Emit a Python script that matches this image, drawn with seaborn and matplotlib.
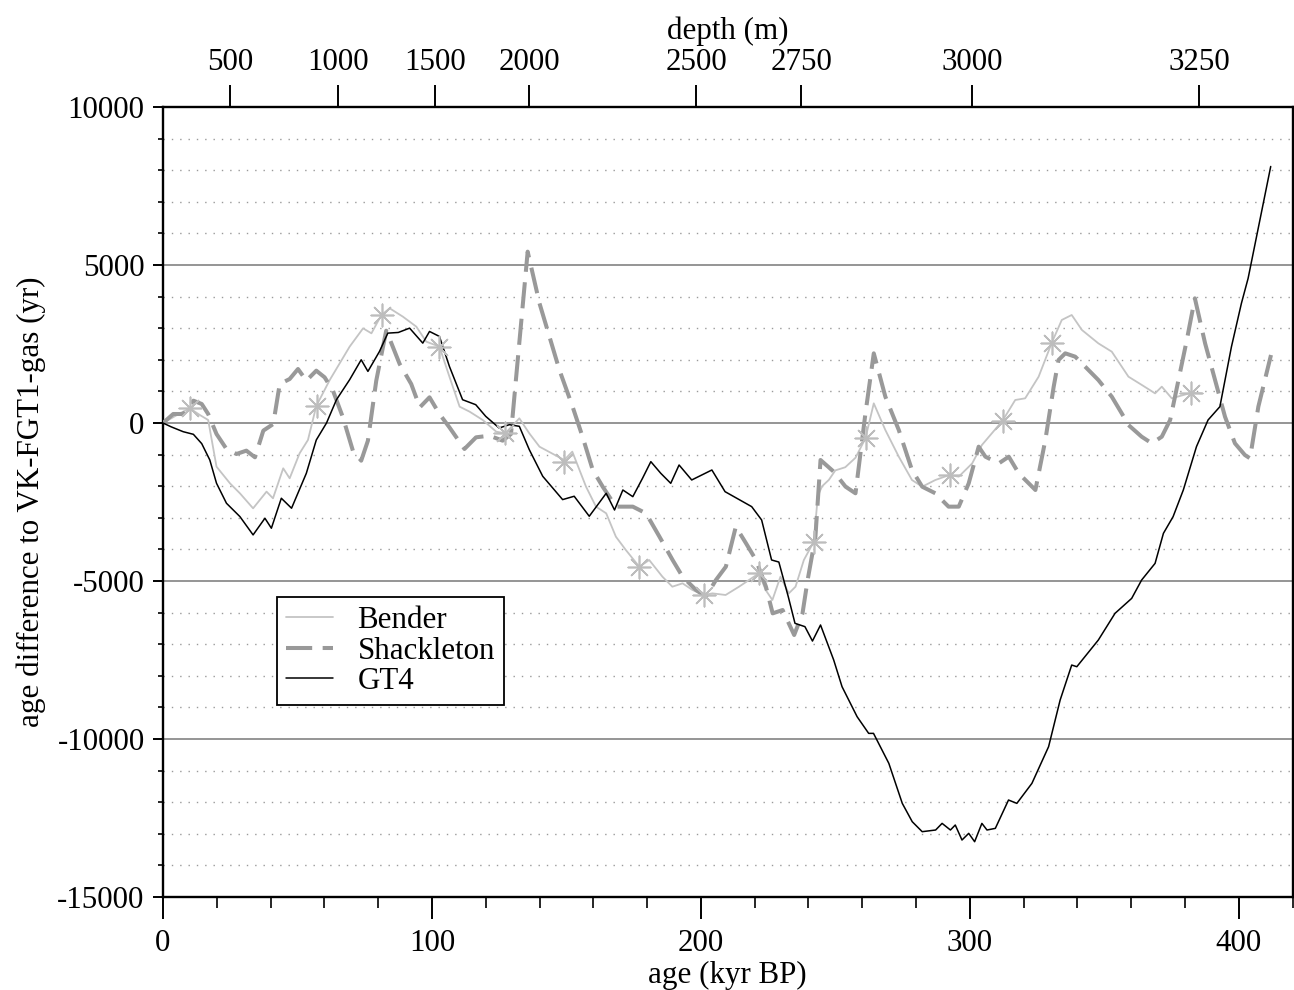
import numpy as np
import pandas as pd
import seaborn as sns
import matplotlib.pyplot as plt
from matplotlib.ticker import MultipleLocator

# GT4 - age difference vs age (kyr BP)
gt4_age = [0, 3, 7.5, 11.3, 14.4, 17.4, 19.9, 23.6, 28.6, 33.5, 37.9, 40.3, 44.0, 47.8,
           53.3, 57.0, 60.8, 64.5, 69.4, 73.7, 76.2, 80.5, 83.6, 87.5, 91.7, 96.6, 99.1,
           102.8, 106.5, 111.4, 116.3, 120.0, 125.0, 128.8, 132.5, 136.2, 141.2, 148.6,
           152.9, 158.5, 164.8, 167.9, 171.0, 174.7, 178.3, 181.4, 185.1, 188.8, 191.9,
           196.6, 204.1, 209.0, 218.9, 222.6, 226.3, 229.0, 232.5, 235.0, 238.7, 241.5,
           244.5, 249.4, 252.5, 258.1, 262.4, 264.2, 269.9, 274.9, 278.6, 282.3, 287.3,
           289.7, 292.8, 294.6, 297.1, 299.6, 301.8, 304.5, 306.4, 309.5, 314.4, 317.5,
           323.1, 329.3, 333.6, 337.9, 339.8, 347.8, 354.0, 360.2, 363.9, 368.9, 372.0,
           375.6, 379.4, 384.3, 388.6, 393.0, 397.3, 401.0, 403.5, 411.9]
gt4_diff = [0, -120, -275, -358, -653, -1169, -1907, -2540, -2962, -3541, -3014, -3330,
            -2381, -2697, -1591, -537, 0, 737, 1370, 2001, 1633, 2265, 2844, 2865, 3002,
            2528, 2897, 2739, 1791, 737, 579, 211, -158, -53, -105, -843, -1686, -2424,
            -2318, -2951, -2225, -2753, -2120, -2331, -1751, -1223, -1592, -1909, -1329,
            -1803, -1487, -2173, -2647, -3069, -4335, -4400, -5495, -6339, -6445, -6900,
            -6392, -7501, -8345, -9294, -9822, -9822, -10771, -12037, -12617, -12933,
            -12880, -12670, -12880, -12722, -13197, -12986, -13250, -12670, -12880,
            -12828, -11931, -12037, -11404, -10244, -8767, -7660, -7712, -6868, -6024,
            -5550, -4969, -4442, -3492, -2964, -2120, -746, 95, 517, 2414, 3786, 4580, 8118]

# Bender
bender_age = [0, 6.3, 10.0, 13.7, 16.8, 19.9, 24.9, 28.6, 33.5, 38.5, 40.9, 44.7, 47.1,
              50.8, 53.9, 57.0, 62.0, 65.7, 69.4, 74.4, 77.5, 81.2, 84.3, 89.2, 94.2, 97.9,
              102.8, 106.5, 110.3, 114.0, 118.9, 123.9, 127.3, 132.5, 136.2, 140.0, 149.2,
              152.2, 157.3, 161.0, 164.8, 168.4, 172.1, 177.1, 180.8, 185.7, 189.4, 193.2,
              196.9, 201.2, 204.3, 209.2, 214.2, 221.6, 224.1, 226.6, 229.6, 232.7, 235.2,
              238.3, 242.0, 243.5, 245.1, 247.6, 250.0, 253.7, 257.5, 261.2, 264.3, 268.6,
              273.6, 278.5, 282.3, 287.2, 292.4, 295.9, 300.9, 304.5, 312.2, 316.9, 320.6,
              325.6, 330.5, 334.2, 337.9, 341.7, 347.8, 352.8, 359.0, 364.0, 368.9, 371.4,
              375.1, 382.5, 386.2]
bender_diff = [0, 306, 464, 253, 95, -1382, -1909, -2225, -2700, -2172, -2383, -1434,
               -1750, -959, -537, 538, 1361, 1888, 2416, 2996, 2838, 3418, 3629, 3365, 3049,
               2574, 2416, 1467, 517, 359, 95, -274, -327, 148, -327, -750, -1171, -907,
               -2015, -2647, -2858, -3597, -4019, -4547, -4336, -4863, -5180, -5074, -5285,
               -5443, -5391, -5443, -5180, -4758, -5285, -5601, -4863, -5391, -5180, -4336,
               -3756, -2300, -2000, -1800, -1500, -1400, -1100, -485, 622, -222, -1066,
               -1804, -2015, -1804, -1646, -1698, -1277, -697, 74, 728, 781, 1466, 2542,
               3260, 3418, 2943, 2521, 2257, 1466, 1202, 938, 1150, 781, 960, 938]

# Bender tie points (asterisks)
tie_age = [10.0, 57.2, 81.3, 102.8, 127.3, 149.2, 177.1, 201.2, 221.6, 242.0, 261.3,
           292.5, 312.2, 330.4, 382.3]
tie_diff = [475, 538, 3418, 2405, -316, -1234, -4557, -5443, -4747, -3766, -475, -1646,
            63, 2532, 949]

# Shackleton
shack_age = [0, 3.8, 7.5, 11.3, 14.4, 16.8, 19.9, 23.6, 27.3, 31.0, 34.2, 37.3, 41.0,
             43.4, 47.1, 50.2, 53.3, 57.0, 60.1, 63.2, 66.9, 70.6, 73.7, 76.2, 79.3, 83.0,
             84.3, 88.0, 92.3, 95.5, 99.1, 102.8, 106.5, 112.1, 116.4, 121.4, 126.3, 129.4,
             131.2, 135.6, 140.0, 147.4, 152.3, 156.0, 159.8, 163.5, 168.4, 174.7, 179.6,
             184.6, 189.5, 193.2, 198.2, 201.9, 205.6, 209.3, 213.0, 216.8, 220.5, 224.2,
             226.7, 230.4, 234.7, 237.8, 239.7, 242.6, 244.5, 249.4, 253.8, 257.5, 261.2,
             264.3, 268.6, 273.6, 278.5, 282.3, 287.2, 292.1, 295.9, 299.6, 303.3, 305.8,
             310.8, 314.5, 318.2, 324.4, 328.1, 331.2, 333.0, 335.5, 339.2, 342.9, 347.8,
             352.8, 356.5, 359.0, 363.9, 367.7, 371.4, 374.5, 377.6, 380.7, 383.7, 387.5,
             391.2, 394.9, 398.6, 402.3, 404.2, 407.3, 412.0]
shack_diff = [0, 285, 285, 707, 602, 285, -348, -822, -981, -875, -1086, -242, -32, 1234,
              1392, 1709, 1340, 1656, 1445, 1023, 179, -875, -1192, -559, 1340, 2922, 2658,
              1867, 1234, 496, 813, 285, -137, -822, -453, -401, -559, -348, 1340, 5422,
              3787, 1678, 517, -432, -1487, -2015, -2647, -2647, -2858, -3597, -4336, -4863,
              -5285, -5496, -4969, -4547, -3281, -3808, -4336, -5180, -6024, -5918, -6709,
              -6024, -4969, -3598, -1171, -1540, -2015, -2225, 306, 2205, 833, -222, -1487,
              -2015, -2225, -2647, -2647, -1909, -749, -1066, -1277, -1066, -1593, -2120,
              -538, 1150, 1994, 2205, 2099, 1783, 1361, 833, 306, -63, -433, -644, -433, 95,
              1361, 2627, 3946, 2521, 1361, 200, -644, -1013, -1118, 517, 2152]

# top axis: depth (m) and the age where each depth sits
depth_labels = [500, 1000, 1500, 2000, 2500, 2750, 3000, 3250]
depth_age = [24.9, 65.0, 101.3, 136.2, 198.3, 237.4, 300.9, 385.3]

sns.set_style("white")
plt.rcParams["font.family"] = ["Liberation Serif", "DejaVu Serif"]
plt.rcParams["axes.unicode_minus"] = False
plt.rcParams["text.color"] = "black"
plt.rcParams["axes.labelcolor"] = "black"
FS = 22.3

fig = plt.figure(figsize=(12.94, 9.90), dpi=100)
ax = fig.add_axes([163 / 1294, 93 / 990, 1129.5 / 1294, 790 / 990])

ax.set_axisbelow(True)
ax.yaxis.set_major_locator(MultipleLocator(5000))
ax.yaxis.set_minor_locator(MultipleLocator(1000))
ax.xaxis.set_major_locator(MultipleLocator(100))
ax.xaxis.set_minor_locator(MultipleLocator(20))
ax.grid(which="major", axis="y", color="#8c8c8c", linewidth=1.3)
ax.grid(which="minor", axis="y", color="#9a9a9a", linewidth=1.0, linestyle=(0, (1, 5)))
ax.grid(which="both", axis="x", visible=False)

sns.lineplot(x=bender_age, y=bender_diff, ax=ax, color="#c4c4c4", linewidth=1.3,
             sort=False, estimator=None, label="Bender", zorder=3)
sns.lineplot(x=shack_age, y=shack_diff, ax=ax, color="#999999", linewidth=2.9,
             linestyle=(0, (6.5, 2.6)), sort=False, estimator=None, label="Shackleton",
             zorder=4)
sns.lineplot(x=gt4_age, y=gt4_diff, ax=ax, color="black", linewidth=1.1,
             sort=False, estimator=None, label="GT4", zorder=5)
sns.scatterplot(x=tie_age, y=tie_diff, ax=ax, marker=(8, 2, 0), s=260,
                color="#bdbdbd", edgecolor="#bdbdbd", linewidth=1.2, zorder=6,
                legend=False)

ax.set_xlim(0, 420)
ax.set_ylim(-15000, 10000)
ax.set_xlabel("age (kyr BP)", fontsize=FS, labelpad=2)
ax.set_ylabel("age difference to VK-FGT1-gas (yr)", fontsize=FS, labelpad=8)

for s in ax.spines.values():
    s.set_visible(True)
    s.set_color("black")
    s.set_linewidth(1.7)

ax.tick_params(axis="x", which="major", direction="out", length=15.8, width=1.4,
               labelsize=FS, pad=7, bottom=True, top=False, colors="black")
ax.tick_params(axis="x", which="minor", direction="out", length=7.9, width=1.4,
               bottom=True, top=False)
ax.tick_params(axis="y", which="major", direction="out", length=7.2, width=1.4,
               labelsize=FS, pad=6, left=True, right=False, colors="black")
ax.tick_params(axis="y", which="minor", direction="out", length=3.6, width=1.4,
               left=True, right=False)

leg = ax.legend(loc="upper left", bbox_to_anchor=(0.101, 0.380), borderaxespad=0,
                fontsize=FS, frameon=True, fancybox=False, edgecolor="black",
                framealpha=1, handlelength=1.5, handletextpad=0.8, labelspacing=0.05,
                borderpad=0.3)
leg.get_frame().set_linewidth(1.3)

ax2 = ax.twiny()
ax2.set_xlim(ax.get_xlim())
ax2.set_xticks(depth_age)
ax2.set_xticklabels([str(d) for d in depth_labels])
ax2.xaxis.set_minor_locator(plt.NullLocator())
ax2.tick_params(axis="x", direction="out", length=15.8, width=1.4, labelsize=FS,
                pad=6, colors="black")
for s in ax2.spines.values():
    s.set_visible(False)
ax2.set_xlabel("depth (m)", fontsize=FS, labelpad=6, color="black")

fig.savefig("out.png", dpi=100)
